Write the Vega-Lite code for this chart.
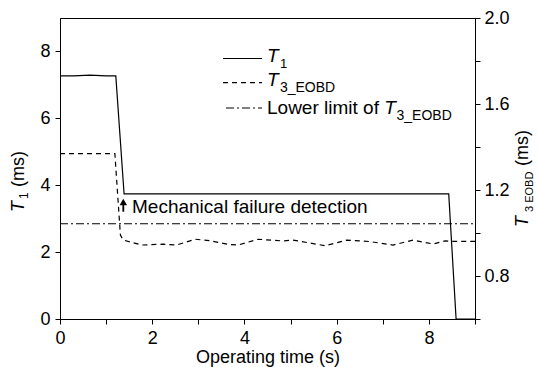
{
  "$schema": "https://vega.github.io/schema/vega-lite/v6.json",
  "width": 415,
  "height": 301,
  "autosize": {"type": "none"},
  "padding": {"left": 60, "top": 18, "right": 63, "bottom": 48},
  "config": {
    "view": {"stroke": "black", "strokeWidth": 1},
    "font": "Liberation Sans",
    "axis": {
      "grid": false,
      "domainColor": "black",
      "tickColor": "black",
      "labelColor": "black",
      "labelFont": "Liberation Sans",
      "labelFontSize": 18,
      "labelFlush": false,
      "labelOverlap": false,
      "titleFont": "Liberation Sans",
      "titleFontWeight": "normal",
      "titleColor": "black",
      "tickSize": 5
    }
  },
  "data": {
    "values": [
      {"series": "T1", "t": 0, "v": 7.27},
      {"series": "T1", "t": 0.3, "v": 7.27},
      {"series": "T1", "t": 0.65, "v": 7.29},
      {"series": "T1", "t": 1.0, "v": 7.27},
      {"series": "T1", "t": 1.21, "v": 7.27},
      {"series": "T1", "t": 1.39, "v": 3.74},
      {"series": "T1", "t": 8.43, "v": 3.74},
      {"series": "T1", "t": 8.59, "v": 0},
      {"series": "T1", "t": 9, "v": 0},
      {"series": "T3_EOBD", "t": 0, "v": 1.369},
      {"series": "T3_EOBD", "t": 1.19, "v": 1.369},
      {"series": "T3_EOBD", "t": 1.31, "v": 0.99},
      {"series": "T3_EOBD", "t": 1.373, "v": 0.967},
      {"series": "T3_EOBD", "t": 1.772, "v": 0.944},
      {"series": "T3_EOBD", "t": 2.234, "v": 0.948},
      {"series": "T3_EOBD", "t": 2.531, "v": 0.944},
      {"series": "T3_EOBD", "t": 2.928, "v": 0.971},
      {"series": "T3_EOBD", "t": 3.253, "v": 0.964},
      {"series": "T3_EOBD", "t": 3.643, "v": 0.947},
      {"series": "T3_EOBD", "t": 3.86, "v": 0.944},
      {"series": "T3_EOBD", "t": 4.294, "v": 0.971},
      {"series": "T3_EOBD", "t": 4.836, "v": 0.963},
      {"series": "T3_EOBD", "t": 5.053, "v": 0.967},
      {"series": "T3_EOBD", "t": 5.747, "v": 0.941},
      {"series": "T3_EOBD", "t": 6.218, "v": 0.967},
      {"series": "T3_EOBD", "t": 6.723, "v": 0.96},
      {"series": "T3_EOBD", "t": 7.222, "v": 0.944},
      {"series": "T3_EOBD", "t": 7.656, "v": 0.967},
      {"series": "T3_EOBD", "t": 8.089, "v": 0.949},
      {"series": "T3_EOBD", "t": 8.35, "v": 0.963},
      {"series": "T3_EOBD", "t": 8.48, "v": 0.961},
      {"series": "T3_EOBD", "t": 9, "v": 0.961},
      {"series": "Lower limit", "t": 0, "v": 1.043},
      {"series": "Lower limit", "t": 9, "v": 1.043}
    ]
  },
  "layer": [
    {
      "layer": [
        {
          "transform": [{"filter": "datum.series == 'T1'"}],
          "mark": {"type": "line", "color": "black", "strokeWidth": 1.2},
          "encoding": {
            "x": {
              "field": "t", "type": "quantitative",
              "scale": {"domain": [0, 9], "nice": false, "zero": false},
              "axis": {
                "values": [0, 1, 2, 3, 4, 5, 6, 7, 8, 9],
                "labelExpr": "datum.value % 2 == 0 ? datum.label : ''",
                "labelPadding": 5,
                "title": "Operating time (s)",
                "titleFontSize": 18,
                "titlePadding": 1
              }
            },
            "y": {
              "field": "v", "type": "quantitative",
              "scale": {"domain": [0, 9], "nice": false, "zero": false},
              "axis": {
                "values": [0, 1, 2, 3, 4, 5, 6, 7, 8],
                "labelExpr": "datum.value % 2 == 0 ? datum.label : ''",
                "labelPadding": 5,
                "title": null
              }
            }
          }
        },
        {
          "data": {"values": [{}]},
          "mark": {"type": "rule", "color": "black", "strokeWidth": 1.2},
          "encoding": {
            "x": {"datum": 3.535, "type": "quantitative"},
            "x2": {"datum": 4.381},
            "y": {"datum": 7.789, "type": "quantitative"}
          }
        },
        {
          "data": {"values": [{}]},
          "mark": {"type": "rule", "color": "black", "strokeWidth": 1.2, "strokeDash": [5, 4]},
          "encoding": {
            "x": {"datum": 3.535, "type": "quantitative"},
            "x2": {"datum": 4.381},
            "y": {"datum": 7.066, "type": "quantitative"}
          }
        },
        {
          "data": {"values": [{}]},
          "mark": {"type": "rule", "color": "black", "strokeWidth": 1.2, "strokeDash": [8, 3, 2, 3]},
          "encoding": {
            "x": {"datum": 3.6, "type": "quantitative"},
            "x2": {"datum": 4.381},
            "y": {"datum": 6.309, "type": "quantitative"}
          }
        },
        {
          "data": {"values": [{}]},
          "mark": {"type": "text", "font": "Liberation Sans", "fontSize": 19, "fontStyle": "italic", "align": "left", "baseline": "alphabetic", "color": "black", "text": "T"},
          "encoding": {
            "x": {"datum": 4.489, "type": "quantitative"},
            "y": {"datum": 7.685, "type": "quantitative"}
          }
        },
        {
          "data": {"values": [{}]},
          "mark": {"type": "text", "font": "Liberation Sans", "fontSize": 13, "align": "left", "baseline": "alphabetic", "color": "black", "text": "1"},
          "encoding": {
            "x": {"datum": 4.77, "type": "quantitative"},
            "y": {"datum": 7.505, "type": "quantitative"}
          }
        },
        {
          "data": {"values": [{}]},
          "mark": {"type": "text", "font": "Liberation Sans", "fontSize": 19, "fontStyle": "italic", "align": "left", "baseline": "alphabetic", "color": "black", "text": "T"},
          "encoding": {
            "x": {"datum": 4.489, "type": "quantitative"},
            "y": {"datum": 6.967, "type": "quantitative"}
          }
        },
        {
          "data": {"values": [{}]},
          "mark": {"type": "text", "font": "Liberation Sans", "fontSize": 14, "align": "left", "baseline": "alphabetic", "color": "black", "text": "3_EOBD"},
          "encoding": {
            "x": {"datum": 4.77, "type": "quantitative"},
            "y": {"datum": 6.788, "type": "quantitative"}
          }
        },
        {
          "data": {"values": [{}]},
          "mark": {"type": "text", "font": "Liberation Sans", "fontSize": 19, "align": "left", "baseline": "alphabetic", "color": "black", "text": "Lower limit of"},
          "encoding": {
            "x": {"datum": 4.489, "type": "quantitative"},
            "y": {"datum": 6.13, "type": "quantitative"}
          }
        },
        {
          "data": {"values": [{}]},
          "mark": {"type": "text", "font": "Liberation Sans", "fontSize": 19, "fontStyle": "italic", "align": "left", "baseline": "alphabetic", "color": "black", "text": "T"},
          "encoding": {
            "x": {"datum": 7.033, "type": "quantitative"},
            "y": {"datum": 6.13, "type": "quantitative"}
          }
        },
        {
          "data": {"values": [{}]},
          "mark": {"type": "text", "font": "Liberation Sans", "fontSize": 14, "align": "left", "baseline": "alphabetic", "color": "black", "text": "3_EOBD"},
          "encoding": {
            "x": {"datum": 7.298, "type": "quantitative"},
            "y": {"datum": 5.95, "type": "quantitative"}
          }
        },
        {
          "data": {"values": [{}]},
          "mark": {"type": "rule", "color": "black", "strokeWidth": 1.8},
          "encoding": {
            "x": {"datum": 1.373, "type": "quantitative"},
            "y": {"datum": 3.208, "type": "quantitative"},
            "y2": {"datum": 3.45}
          }
        },
        {
          "data": {"values": [{}]},
          "mark": {"type": "point", "shape": "triangle-up", "filled": true, "color": "black", "opacity": 1, "size": 55},
          "encoding": {
            "x": {"datum": 1.373, "type": "quantitative"},
            "y": {"datum": 3.5, "type": "quantitative"}
          }
        },
        {
          "data": {"values": [{}]},
          "mark": {"type": "text", "font": "Liberation Sans", "fontSize": 19, "align": "left", "baseline": "middle", "color": "black", "text": "Mechanical failure detection"},
          "encoding": {
            "x": {"datum": 1.562, "type": "quantitative"},
            "y": {"datum": 3.349, "type": "quantitative"}
          }
        },
        {
          "data": {"values": [{}]},
          "mark": {"type": "text", "font": "Liberation Sans", "fontSize": 18, "fontStyle": "italic", "align": "left", "baseline": "alphabetic", "angle": 270, "color": "black", "text": "T"},
          "encoding": {
            "x": {"datum": -0.781, "type": "quantitative"},
            "y": {"datum": 3.199, "type": "quantitative"}
          }
        },
        {
          "data": {"values": [{}]},
          "mark": {"type": "text", "font": "Liberation Sans", "fontSize": 12, "align": "left", "baseline": "alphabetic", "angle": 270, "color": "black", "text": "1"},
          "encoding": {
            "x": {"datum": -0.694, "type": "quantitative"},
            "y": {"datum": 3.59, "type": "quantitative"}
          }
        },
        {
          "data": {"values": [{}]},
          "mark": {"type": "text", "font": "Liberation Sans", "fontSize": 18, "align": "left", "baseline": "alphabetic", "angle": 270, "color": "black", "text": "(ms)"},
          "encoding": {
            "x": {"datum": -0.781, "type": "quantitative"},
            "y": {"datum": 3.95, "type": "quantitative"}
          }
        },
        {
          "data": {"values": [{}]},
          "mark": {"type": "text", "font": "Liberation Sans", "fontSize": 18, "fontStyle": "italic", "align": "left", "baseline": "alphabetic", "angle": 270, "color": "black", "text": "T"},
          "encoding": {
            "x": {"datum": 10.149, "type": "quantitative"},
            "y": {"datum": 2.751, "type": "quantitative"}
          }
        },
        {
          "data": {"values": [{}]},
          "mark": {"type": "text", "font": "Liberation Sans", "fontSize": 11, "align": "left", "baseline": "alphabetic", "angle": 270, "color": "black", "text": "3 EOBD"},
          "encoding": {
            "x": {"datum": 10.258, "type": "quantitative"},
            "y": {"datum": 3.199, "type": "quantitative"}
          }
        },
        {
          "data": {"values": [{}]},
          "mark": {"type": "text", "font": "Liberation Sans", "fontSize": 18, "align": "left", "baseline": "alphabetic", "angle": 270, "color": "black", "text": "(ms)"},
          "encoding": {
            "x": {"datum": 10.149, "type": "quantitative"},
            "y": {"datum": 4.575, "type": "quantitative"}
          }
        }
      ]
    },
    {
      "transform": [{"filter": "datum.series != 'T1'"}],
      "mark": {"type": "line", "color": "black", "strokeWidth": 1.2},
      "encoding": {
        "x": {"field": "t", "type": "quantitative"},
        "y": {
          "field": "v", "type": "quantitative",
          "scale": {"domain": [0.6, 2.0], "nice": false, "zero": false},
          "axis": {
            "orient": "right",
            "values": [0.6, 0.8, 1.0, 1.2, 1.4, 1.6, 1.8, 2.0],
            "format": ".1f",
            "labelExpr": "abs(round(datum.value*10) % 4) == 2 ? '' : datum.label",
            "labelPadding": 4,
            "title": null
          }
        },
        "strokeDash": {
          "field": "series", "type": "nominal",
          "scale": {"domain": ["T3_EOBD", "Lower limit"], "range": [[5, 4], [8, 3, 2, 3]]},
          "legend": null
        }
      }
    }
  ],
  "resolve": {"scale": {"y": "independent"}}
}
